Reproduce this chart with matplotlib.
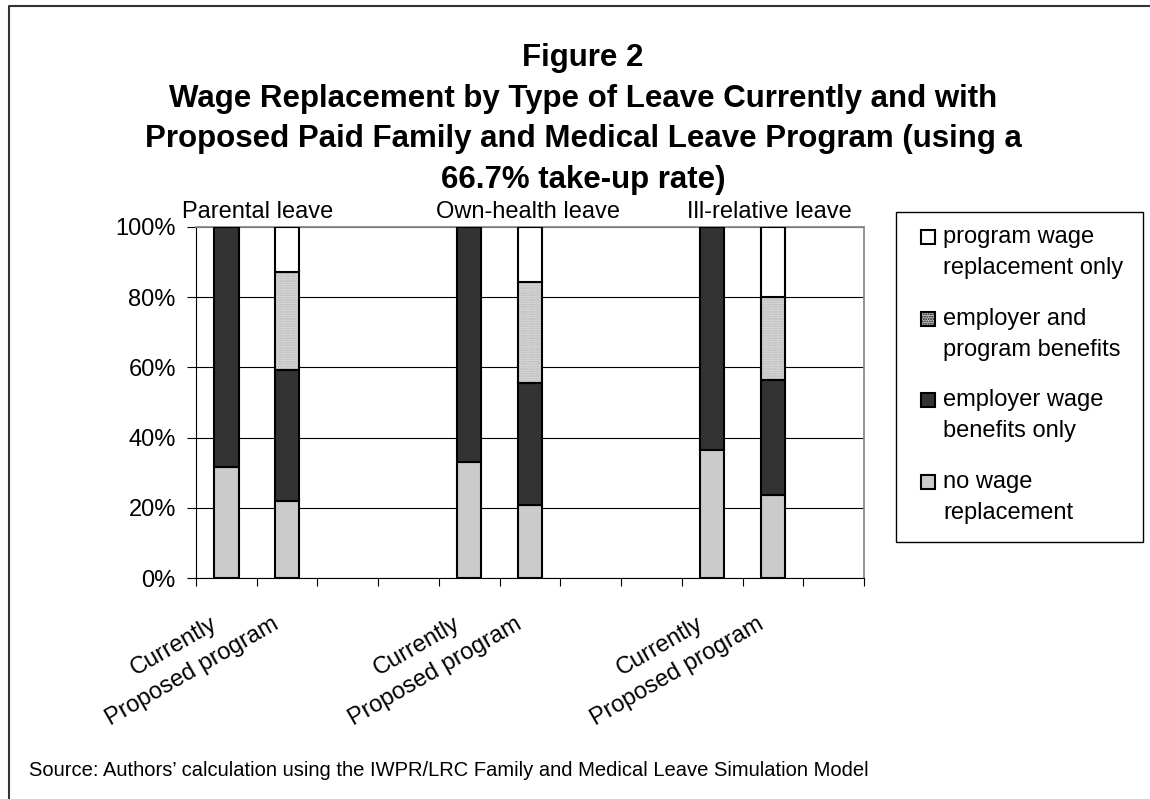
import matplotlib
matplotlib.use("Agg")
import matplotlib.pyplot as plt
import matplotlib.transforms as mtransforms
from matplotlib.patches import Rectangle
from matplotlib.lines import Line2D
import numpy as np

plt.rcParams['font.family'] = ['Liberation Sans', 'DejaVu Sans']

# data (percent of leaves), 11 slots incl. empty spacer slots
categories = ['Currently', 'Proposed program', '', '',
              'Currently', 'Proposed program', '', '',
              'Currently', 'Proposed program', '']
no_wage          = [31.6, 22.0, 0, 0, 33.1, 20.8, 0, 0, 36.4, 23.7, 0]
employer_only    = [68.4, 37.2, 0, 0, 66.9, 34.7, 0, 0, 63.6, 32.7, 0]
employer_program = [0.0, 27.8, 0, 0, 0.0, 28.9, 0, 0, 0.0, 23.5, 0]
program_only     = [0.0, 13.0, 0, 0, 0.0, 15.6, 0, 0, 0.0, 20.1, 0]

series_names = ['no wage\nreplacement',
                'employer wage\nbenefits only',
                'employer and\nprogram benefits',
                'program wage\nreplacement only']
group_labels = ['Parental leave', 'Own-health leave', 'Ill-relative leave']
group_pos = [-0.73, 3.45, 7.585]
yticks = [0, 20, 40, 60, 80, 100]

title_lines = ['Figure 2',
               'Wage Replacement by Type of Leave Currently and with',
               'Proposed Paid Family and Medical Leave Program (using a',
               '66.7% take-up rate)']
source = 'Source: Authors\u2019 calculation using the IWPR/LRC Family and Medical Leave Simulation Model'

W, H = 1150, 799
fig = plt.figure(figsize=(W / 100, H / 100), dpi=100)

def fx(px):
    return px / W

def fy(py):
    return 1 - py / H

ax = fig.add_axes([fx(196), fy(578.3), fx(864) - fx(196), fy(226.7) - fy(578.3)])

styles = [dict(color='#cbcbcb'),
          dict(color='#333333'),
          dict(color='#dcdcdc', hatch='.......'),
          dict(color='white')]

x = np.arange(len(categories))
bottom = np.zeros(len(categories))
width = 0.4
for vals, st in zip([no_wage, employer_only, employer_program, program_only], styles):
    vals = np.array(vals, dtype=float)
    m = vals > 0
    if 'hatch' in st:
        ax.bar(x[m], vals[m], width, bottom=bottom[m], color=st['color'],
               hatch=st['hatch'], edgecolor='#b4b4b4', linewidth=0, zorder=2)
        ax.bar(x[m], vals[m], width, bottom=bottom[m], fill=False,
               edgecolor='black', linewidth=1.5, zorder=3)
    else:
        ax.bar(x[m], vals[m], width, bottom=bottom[m], color=st['color'],
               edgecolor='black', linewidth=1.5, zorder=3)
    bottom += vals

ax.set_xlim(-0.5, len(categories) - 0.5)
ax.set_ylim(0, 100)
ax.set_yticks(yticks)
ax.set_yticklabels([f'{v}%' for v in yticks], fontsize=17)
ax.yaxis.grid(True, color='black', linewidth=0.8)
ax.set_axisbelow(True)

ax.set_xticks(np.arange(-0.5, len(categories)), labels=[''] * (len(categories) + 1))
ax.set_xticks(x, labels=categories, minor=True)
ax.tick_params(axis='x', which='major', direction='out', length=6, width=0.8)
ax.tick_params(axis='x', which='minor', length=0, pad=25, labelsize=17)
ax.tick_params(axis='y', direction='out', length=6.5, width=0.8, pad=8)

off = mtransforms.ScaledTranslation(-16 / 100, 0, fig.dpi_scale_trans)
for lab in ax.get_xticklabels(minor=True):
    lab.set_rotation(30)
    lab.set_rotation_mode('anchor')
    lab.set_ha('right')
    lab.set_va('top')
    lab.set_transform(lab.get_transform() + off)

for s in ['left', 'bottom']:
    ax.spines[s].set_color('black')
    ax.spines[s].set_linewidth(0.8)
for s in ['top', 'right']:
    ax.spines[s].set_color('#8a8a8a')
    ax.spines[s].set_linewidth(1.3)

# group captions above the plot
trans = mtransforms.blended_transform_factory(ax.transData, ax.transAxes)
for lbl, pos in zip(group_labels, group_pos):
    ax.text(pos, 1.042, lbl, transform=trans, ha='left', va='center', fontsize=17)

# title
for i, line in enumerate(title_lines):
    fig.text(fx(583), fy(58 + i * 40.7), line, ha='center', va='center',
             fontsize=22.5, fontweight='bold')

# source note
fig.text(fx(29), fy(770), source, ha='left', va='center', fontsize=14.5)

# legend box drawn by hand (Excel style: handle next to first label line)
fig.patches.append(Rectangle((fx(895.7), fy(541.7)), fx(1142.7) - fx(895.7),
                             fy(211.7) - fy(541.7), transform=fig.transFigure,
                             fill=False, edgecolor='black', linewidth=1))
order = [3, 2, 1, 0]
for row, k in enumerate(order):
    yc = 237 + row * 81.7
    st = styles[k]
    fig.patches.append(Rectangle((fx(921), fy(yc + 7)), fx(14), 14 / H,
                                 transform=fig.transFigure, facecolor=st['color'],
                                 hatch=st.get('hatch'), edgecolor='black',
                                 linewidth=1.5))
    for j, part in enumerate(series_names[k].split('\n')):
        fig.text(fx(943), fy(yc + j * 31), part, ha='left', va='center', fontsize=17)

# outer frame (left and top edges)
fig.lines.append(Line2D([fx(9), fx(9), 1], [0, fy(6), fy(6)],
                        transform=fig.transFigure, color='#333333', linewidth=1.5))

fig.savefig('out.png', dpi=100)
